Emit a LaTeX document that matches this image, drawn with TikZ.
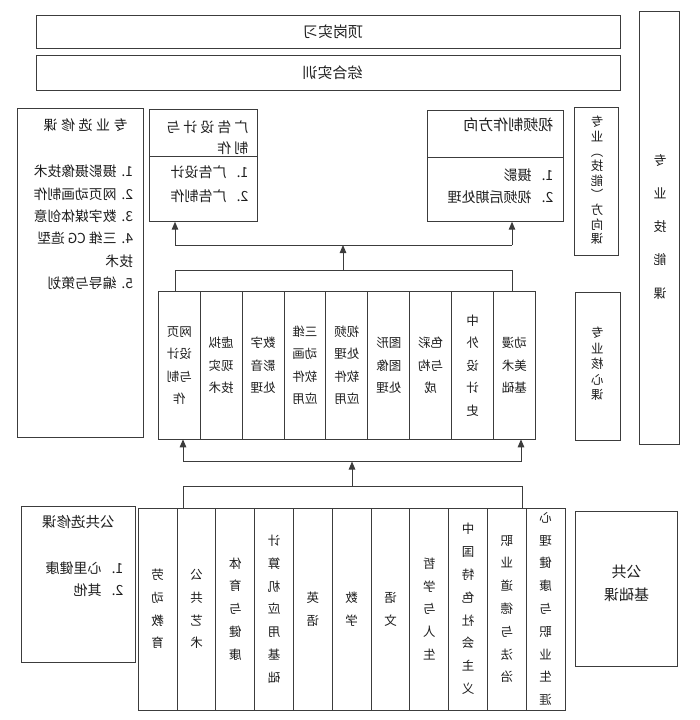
\documentclass[tikz,border=0pt]{standalone}
\usepackage{fontspec}
\newfontfamily\cjk{Noto Sans CJK SC}
\usetikzlibrary{arrows.meta}
\definecolor{linec}{HTML}{3C3C3C}
\definecolor{txtc}{HTML}{1E1E1E}
\newcommand{\flipc}[2]{\reflectbox{\vbox{\baselineskip=#1\lineskiplimit=-\maxdimen\let\\\cr\halign{\hfil##\hfil\cr#2\crcr}}}}
\newcommand{\flipl}[2]{\reflectbox{\vbox{\baselineskip=#1\lineskiplimit=-\maxdimen\let\\\cr\halign{##\hfil\cr#2\crcr}}}}
\begin{document}
\begin{tikzpicture}[x=1pt,y=-1pt,
  box/.style={draw=linec, line width=1pt, inner sep=0pt, outer sep=0pt, text=txtc},
  lbl/.style={inner sep=0pt, outer sep=0pt, text=txtc},
  big/.style={font=\cjk\fontsize{14}{16}\selectfont},
  hdr/.style={font=\cjk\fontsize{15}{17}\selectfont},
  sml/.style={font=\cjk\fontsize{12.5}{14}\selectfont},
  corecol/.style={box, sml, minimum width=41.9pt, minimum height=147.6pt},
  pubcol/.style={box, sml, minimum width=38.8pt, minimum height=202pt},
  ln/.style={draw=linec, line width=1pt},
  arr/.style={draw=linec, line width=1pt, -{Triangle[width=6.5pt,length=8pt]}}]
\useasboundingbox (0,0) rectangle (700,720);

% top boxes
\node[box, minimum width=583.3pt, minimum height=32.6pt] (dg) at (328.35,32) {};
\node[lbl, hdr] (dgt) at (333,32) {\reflectbox{顶岗实习}};
\node[box, minimum width=583.3pt, minimum height=34.3pt] (zh) at (328.35,72.85) {};
\node[lbl, hdr] (zht) at (332.6,72.5) {\reflectbox{综合实训}};

% right tall boxes
\node[box, minimum width=40pt, minimum height=433pt] (jn) at (659.3,227.5) {};
\node[lbl, font=\cjk\fontsize{13}{15}\selectfont] (jnt) at (660,226.7) {\flipc{33.3pt}{专\\业\\技\\能\\课}};
\node[box, minimum width=44.3pt, minimum height=147.7pt] (fx) at (596.15,181.15) {};
\node[lbl, sml] (fxt) at (597,180.5) {\flipc{14.6pt}{专\\业\\︵\\技\\能\\︶\\方\\向\\课}};
\node[box, minimum width=45pt, minimum height=148pt] (hx) at (597.5,366) {};
\node[lbl, sml] (hxt) at (597.3,364) {\flipc{15.4pt}{专\\业\\核\\心\\课}};

% professional elective box
\node[box, minimum width=126pt, minimum height=329.2pt] (zx) at (80.3,272.9) {};
\node[lbl, big] (zxt) at (85.5,125) {\reflectbox{专\hspace{3.5pt}业\hspace{3.5pt}选\hspace{3.5pt}修\hspace{3.5pt}课}};
\node[lbl, font=\cjk\fontsize{13.8}{16}\selectfont, anchor=east] (zxl) at (133,227.5) {\flipl{22.3pt}{1.\hspace{5pt}摄影摄像技术\\2.\hspace{5pt}网页动画制作\\3.\hspace{5pt}数字媒体创意\\4.\hspace{5pt}三维 CG 造型\\技术\\5.\hspace{5pt}编导与策划}};

% advertising box
\node[box, minimum width=108.7pt, minimum height=112.4pt] (ad) at (203.35,165.5) {};
\draw[ln] ([yshift=-47.4pt]ad.north west) -- ([yshift=-47.4pt]ad.north east);
\node[lbl, big, anchor=east] (adt) at (248.3,137.5) {\flipl{21.6pt}{广\hspace{3pt}告\hspace{3pt}设\hspace{3pt}计\hspace{3pt}与\\制\hspace{3pt}作}};
\node[lbl, big, anchor=east] (adl) at (248.3,183.9) {\flipl{24.3pt}{1.\hspace{10pt}广告设计\\2.\hspace{10pt}广告制作}};

% video box
\node[box, minimum width=136pt, minimum height=111.7pt] (vid) at (495.3,165.85) {};
\draw[ln] ([yshift=-47.3pt]vid.north west) -- ([yshift=-47.3pt]vid.north east);
\node[lbl, hdr, anchor=east] (vidt) at (553.3,125) {\reflectbox{视频制作方向}};
\node[lbl, big, anchor=east] (vidl) at (553.3,186.2) {\flipl{22.3pt}{1.\hspace{10pt}摄影\\2.\hspace{10pt}视频后期处理}};

% core course columns
\node[corecol] (c1) at (179.25,365.5) {\flipc{22.5pt}{网页\\设计\\与制\\作}};
\node[corecol] (c2) at (221.15,365.5) {\flipc{22.5pt}{虚拟\\现实\\技术}};
\node[corecol] (c3) at (263.05,365.5) {\flipc{22.5pt}{数字\\影音\\处理}};
\node[corecol] (c4) at (304.95,365.5) {\flipc{22.5pt}{三维\\动画\\软件\\应用}};
\node[corecol] (c5) at (346.85,365.5) {\flipc{22.5pt}{视频\\处理\\软件\\应用}};
\node[corecol] (c6) at (388.75,365.5) {\flipc{22.5pt}{图形\\图像\\处理}};
\node[corecol] (c7) at (430.65,365.5) {\flipc{22.5pt}{色彩\\与构\\成}};
\node[corecol] (c8) at (472.55,365.5) {\flipc{22.5pt}{中\\外\\设\\计\\史}};
\node[corecol] (c9) at (514.45,365.5) {\flipc{22.5pt}{动漫\\美术\\基础}};

% public basic columns
\node[pubcol] (p1) at (157.7,609) {\flipc{22.8pt}{劳\\动\\教\\育}};
\node[pubcol] (p2) at (196.5,609) {\flipc{22.8pt}{公\\共\\艺\\术}};
\node[pubcol] (p3) at (235.3,609) {\flipc{22.8pt}{体\\育\\与\\健\\康}};
\node[pubcol] (p4) at (274.1,609) {\flipc{22.8pt}{计\\算\\机\\应\\用\\基\\础}};
\node[pubcol] (p5) at (312.9,609) {\flipc{22.8pt}{英\\语}};
\node[pubcol] (p6) at (351.7,609) {\flipc{22.8pt}{数\\学}};
\node[pubcol] (p7) at (390.5,609) {\flipc{22.8pt}{语\\文}};
\node[pubcol] (p8) at (429.3,609) {\flipc{22.8pt}{哲\\学\\与\\人\\生}};
\node[pubcol] (p9) at (468.1,609) {\flipc{22.8pt}{中\\国\\特\\色\\社\\会\\主\\义}};
\node[pubcol] (p10) at (506.9,609) {\flipc{22.8pt}{职\\业\\道\\德\\与\\法\\治}};
\node[pubcol] (p11) at (545.7,609) {\flipc{22.8pt}{心\\理\\健\\康\\与\\职\\业\\生\\涯}};

% public elective box
\node[box, minimum width=113.3pt, minimum height=156pt] (gx) at (78.35,584.7) {};
\node[lbl, font=\cjk\fontsize{14.5}{16}\selectfont] (gxt) at (78.3,521.7) {\reflectbox{公共选修课}};
\node[lbl, big, anchor=east] (gxl) at (123.3,579.2) {\flipl{21.7pt}{1.\hspace{10pt}心里健康\\2.\hspace{10pt}其他}};

% public basic label box
\node[box, minimum width=101.6pt, minimum height=155.7pt] (gj) at (626.5,588.85) {};
\node[lbl, hdr] (gjt) at (626.7,583.4) {\flipc{23.3pt}{公共\\基础课}};

% connectors: core -> direction boxes
\coordinate (t1) at (175,270);
\coordinate (t2) at (512,270);
\coordinate (tm) at (343,270);
\coordinate (u1) at (175,245);
\coordinate (u2) at (512,245);
\coordinate (um) at (343,245);
\draw[ln] (t1 |- c1.north) -- (t1) -- (t2) -- (t2 |- c9.north);
\draw[arr] (tm) -- (um);
\draw[ln] (u1) -- (u2);
\draw[arr] (u1) -- (u1 |- ad.south);
\draw[arr] (u2) -- (u2 |- vid.south);

% connectors: public -> core
\coordinate (l1) at (183,486);
\coordinate (l2) at (522,486);
\coordinate (lm) at (352,486);
\coordinate (b1) at (183,461.5);
\coordinate (b2) at (521,461.5);
\coordinate (bm) at (352,461.5);
\draw[ln] (l1 |- p2.north) -- (l1) -- (l2) -- (l2 |- p10.north);
\draw[arr] (lm) -- (bm);
\draw[ln] (b1) -- (b2);
\draw[arr] (b1) -- (b1 |- c1.south);
\draw[arr] (b2) -- (b2 |- c9.south);
\end{tikzpicture}
\end{document}
